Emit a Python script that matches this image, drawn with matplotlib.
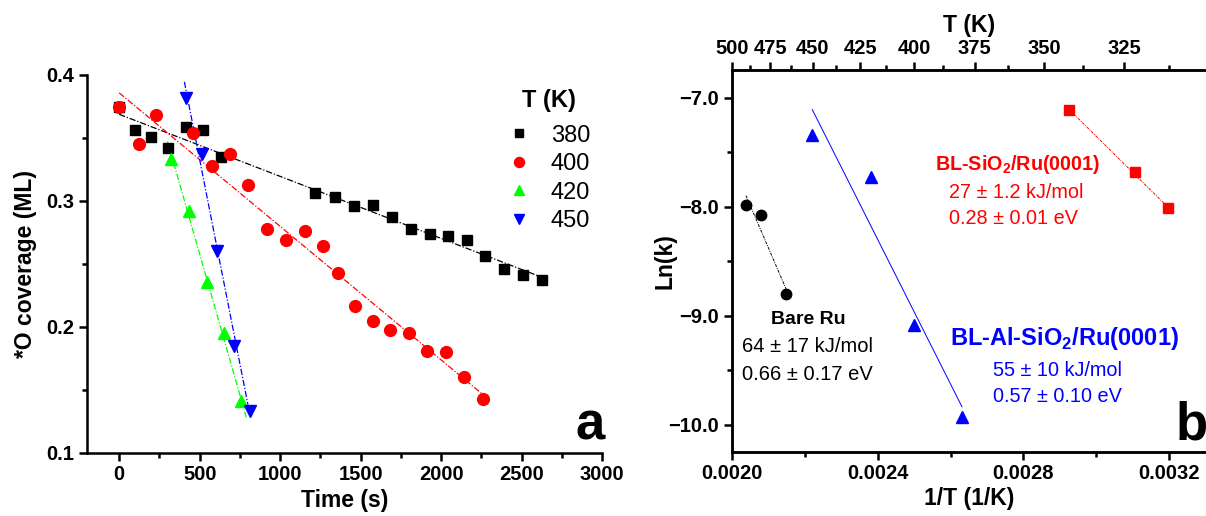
import numpy as np
import matplotlib
matplotlib.use("Agg")
import matplotlib.pyplot as plt
from matplotlib.lines import Line2D

plt.rcParams['font.family'] = ['Liberation Sans', 'DejaVu Sans']
plt.rcParams['mathtext.fontset'] = 'custom'
plt.rcParams['mathtext.rm'] = 'Liberation Sans'
plt.rcParams['mathtext.bf'] = 'Liberation Sans:bold'

# ---------------- Panel a data ----------------
t_380 = [0, 98, 200, 306, 417, 520, 630, 1219, 1343, 1460, 1574, 1696, 1812, 1929, 2043, 2159, 2276, 2394, 2508, 2627]
c_380 = [0.375, 0.356, 0.351, 0.342, 0.359, 0.356, 0.335, 0.306, 0.303, 0.296, 0.297, 0.287, 0.278, 0.274, 0.272, 0.269, 0.256, 0.246, 0.241, 0.237]
t_400 = [0, 122, 227, 461, 576, 690, 802, 917, 1035, 1155, 1264, 1361, 1465, 1574, 1683, 1799, 1915, 2029, 2142, 2260]
c_400 = [0.375, 0.345, 0.368, 0.354, 0.328, 0.337, 0.313, 0.278, 0.269, 0.276, 0.264, 0.243, 0.217, 0.205, 0.198, 0.195, 0.181, 0.180, 0.160, 0.143]
t_420 = [325, 434, 543, 651, 754]
c_420 = [0.333, 0.292, 0.236, 0.195, 0.141]
t_450 = [413, 515, 610, 715, 814]
c_450 = [0.382, 0.337, 0.260, 0.185, 0.133]
fit_range_380 = [0, 2640]
fit_range_400 = [0, 2270]
fit_range_420 = [300, 790]
fit_range_450 = [405, 800]
temps = ['380', '400', '420', '450']

# ---------------- Panel b data ----------------
invT_bare = [0.0020392, 0.0020795, 0.0021489]
lnk_bare = [-7.983, -8.075, -8.802]
invT_alsio2 = [0.0022210, 0.0023811, 0.0024998, 0.0026314]
lnk_alsio2 = [-7.342, -7.724, -9.083, -9.924]
invT_sio2 = [0.0029248, 0.0031058, 0.0031953]
lnk_sio2 = [-7.113, -7.684, -8.014]
T_major = [500, 475, 450, 425, 400, 375, 350, 325]
T_minor = [487.5, 462.5, 437.5, 412.5, 387.5, 362.5, 337.5, 312.5]

W, H = 1206, 516
fig = plt.figure(figsize=(W / 100, H / 100), dpi=100)

def fx(px):
    return px / W

def fy(py):
    return 1 - py / H

SP_LW = 1.8
TICKFS = 14.5
LABFS = 16.5

def style_axis(ax):
    for s in ax.spines.values():
        s.set_linewidth(SP_LW)
    ax.tick_params(which='major', direction='out', length=6, width=SP_LW, labelsize=TICKFS, pad=3)
    ax.tick_params(which='minor', direction='out', length=3.5, width=SP_LW)
    for lab in ax.get_xticklabels() + ax.get_yticklabels():
        lab.set_fontweight('bold')

# ---------------- Panel a ----------------
axa = fig.add_axes([fx(87), fy(453), fx(602) - fx(87), fy(75) - fy(453)])
axa.set_xlim(-200, 3000)
axa.set_ylim(0.1, 0.4)
axa.spines['top'].set_visible(False)
axa.spines['right'].set_visible(False)

ls_fit = (0, (5, 1.5, 1, 1.5))
series = [
    (t_380, c_380, fit_range_380, 'black', 's', 7.5),
    (t_400, c_400, fit_range_400, '#FF0000', 'o', 8.5),
    (t_420, c_420, fit_range_420, '#00FF00', '^', 9),
    (t_450, c_450, fit_range_450, '#0000FF', 'v', 9),
]
for t, c, fr, col, mk, ms in series:
    p = np.polyfit(t, c, 1)
    xx = np.array(fr, dtype=float)
    axa.plot(xx, np.polyval(p, xx), color=col, lw=0.9, ls=ls_fit, zorder=2)
for t, c, fr, col, mk, ms in series:
    axa.plot(t, c, ls='none', marker=mk, color=col, ms=ms, mec=col, zorder=3)

axa.set_xticks([0, 500, 1000, 1500, 2000, 2500, 3000])
axa.set_xticks([250, 750, 1250, 1750, 2250, 2750], minor=True)
axa.set_yticks([0.1, 0.2, 0.3, 0.4])
axa.set_yticks([0.15, 0.25, 0.35], minor=True)
axa.set_yticklabels(['0.1', '0.2', '0.3', '0.4'])
style_axis(axa)
axa.set_xlabel('Time (s)', fontsize=LABFS, fontweight='bold', labelpad=3)
axa.set_ylabel('*O coverage (ML)', fontsize=LABFS, fontweight='bold', labelpad=7)

handles = [Line2D([], [], ls='none', marker=mk, color=col, mec=col, ms=ms * 0.85)
           for (t, c, fr, col, mk, ms) in series]
leg = fig.legend(handles, temps, loc='upper left', bbox_to_anchor=(fx(507), fy(89)),
                 bbox_transform=fig.transFigure, frameon=False, fontsize=17,
                 title='T (K)', title_fontproperties={'weight': 'bold', 'size': 17},
                 handlelength=1.0, handletextpad=0.85, labelspacing=0.28, borderpad=0,
                 borderaxespad=0)
leg._legend_box.sep = 9

fig.text(fx(590), fy(440), 'a', fontsize=38, fontweight='bold', ha='center', va='baseline')

# ---------------- Panel b ----------------
axb = fig.add_axes([fx(731.7), fy(451.7), 1 - fx(731.7), fy(70) - fy(451.7)])
axb.set_xlim(0.0020, 0.0033004)
axb.set_ylim(-10.245, -6.745)
axb.spines['right'].set_visible(False)

fits_b = [
    (invT_bare, lnk_bare, 'black', 'o', 7.5, (0, (3, 1.2, 1, 1.2))),
    (invT_alsio2, lnk_alsio2, '#0000FF', '^', 8.5, '-'),
    (invT_sio2, lnk_sio2, '#FF0000', 's', 7, (0, (3, 1.2, 1, 1.2))),
]
for x, y, col, mk, ms, ls in fits_b:
    p = np.polyfit(x, y, 1)
    xx = np.array([min(x), max(x)])
    axb.plot(xx, np.polyval(p, xx), color=col, lw=0.7, ls=ls, zorder=2)
    axb.plot(x, y, ls='none', marker=mk, color=col, mec=col, ms=ms, zorder=3)

axb.set_xticks([0.0020, 0.0024, 0.0028, 0.0032])
axb.set_xticklabels(['0.0020', '0.0024', '0.0028', '0.0032'])
axb.set_xticks([0.0022, 0.0026, 0.0030], minor=True)
axb.set_yticks([-10.0, -9.0, -8.0, -7.0])
axb.set_yticklabels(['\u221210.0', '\u22129.0', '\u22128.0', '\u22127.0'])
axb.set_yticks([-9.5, -8.5, -7.5], minor=True)
style_axis(axb)
axb.set_xlabel('1/T (1/K)', fontsize=LABFS, fontweight='bold', labelpad=3)
axb.set_ylabel('Ln(k)', fontsize=LABFS, fontweight='bold', labelpad=-6)

axt = axb.twiny()
axt.set_xlim(axb.get_xlim())
axt.set_xticks(1.0 / np.array(T_major, dtype=float))
axt.set_xticklabels([str(v) for v in T_major])
axt.set_xticks(1.0 / np.array(T_minor), minor=True)
axt.spines['right'].set_visible(False)
style_axis(axt)
axt.set_xlabel('T (K)', fontsize=LABFS, fontweight='bold', labelpad=5)

# annotations
fig.text(fx(1018), fy(165), r'BL-SiO$_\mathbf{2}$/Ru(0001)', color='#FF0000', fontsize=14.2,
         fontweight='bold', ha='center', va='center')
fig.text(fx(949), fy(193), '27 \u00b1 1.2 kJ/mol', color='#FF0000', fontsize=14.3, ha='left', va='center')
fig.text(fx(949), fy(219), '0.28 \u00b1 0.01 eV', color='#FF0000', fontsize=14.3, ha='left', va='center')

fig.text(fx(808), fy(320), 'Bare Ru', color='black', fontsize=14, fontweight='bold', ha='center', va='center')
fig.text(fx(742), fy(347), '64 \u00b1 17 kJ/mol', color='black', fontsize=14.5, ha='left', va='center')
fig.text(fx(742), fy(375), '0.66 \u00b1 0.17 eV', color='black', fontsize=14.5, ha='left', va='center')

fig.text(fx(1064), fy(338), r'BL-Al-SiO$_\mathbf{2}$/Ru(0001)', color='#0000FF', fontsize=17,
         fontweight='bold', ha='center', va='center')
fig.text(fx(993), fy(370), '55 \u00b1 10 kJ/mol', color='#0000FF', fontsize=14.3, ha='left', va='center')
fig.text(fx(993), fy(397), '0.57 \u00b1 0.10 eV', color='#0000FF', fontsize=14.3, ha='left', va='center')

fig.text(fx(1192), fy(440), 'b', fontsize=38, fontweight='bold', ha='center', va='baseline')

fig.savefig('out.png', dpi=100)
